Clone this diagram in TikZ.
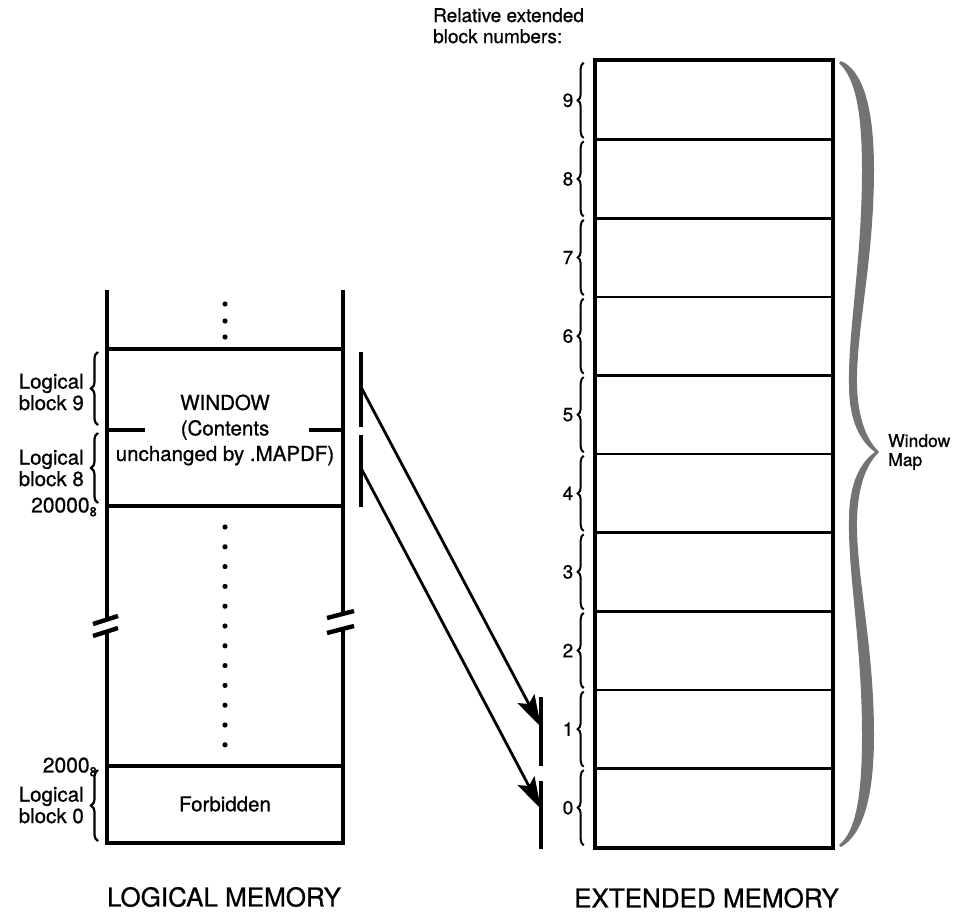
\documentclass[tikz,border=0pt]{standalone}
\usepackage{fontspec}
\setmainfont{TeX Gyre Heros}[FakeBold=0.8]
\usetikzlibrary{arrows.meta,decorations.pathreplacing,calc}
\begin{document}
\begin{tikzpicture}[x=1pt,y=-1pt,
  wall/.style={line width=3.8pt},
  hline/.style={line width=3.4pt},
  rowbox/.style={draw,line width=2.6pt,minimum width=236pt,minimum height=78.6pt,inner sep=0pt},
  lbl/.style={font=\fontsize{20.5}{21.5}\selectfont,align=left,inner sep=0pt},
  numlbl/.style={font=\fontsize{19}{19}\selectfont,inner sep=0pt},
  title/.style={font=\fontsize{26}{26}\selectfont,inner sep=0pt},
  lbrace/.style={decorate,decoration={brace,amplitude=7pt},line width=2.2pt},
  nbrace/.style={decorate,decoration={brace,amplitude=6pt},line width=2pt},
  brk/.style={line width=4.4pt},
  bar/.style={line width=3.2pt},
  maparrow/.style={line width=2.8pt,-{Stealth[length=32pt,width=19pt,inset=6pt]}},
  dotm/.style={fill=black}
]
\useasboundingbox (0,0) rectangle (962,918);

% ---------- Logical memory ----------
\coordinate (LT) at (107,290);
\coordinate (RT) at (343,290);
\draw[wall] (LT) -- (107,619.5);
\draw[wall] (107,631.5) -- (107,843);
\draw[wall] (RT) -- (343,614);
\draw[wall] (343,629) -- (343,843);
\draw[brk] (93,624) -- (118,616);
\draw[brk] (93,636) -- (118,628);
\draw[brk] (327,618) -- (354,611);
\draw[brk] (327,633) -- (354,626);

\draw[hline] (107,349) -- (343,349);
\draw[hline] (107,430) -- (145,430);
\draw[hline] (309,430) -- (343,430);
\draw[hline] (107,506) -- (343,506);
\draw[hline] (107,766) -- (343,766);
\draw[hline] (105.1,843) -- (344.9,843);

\foreach \y in {304,321,337}{\fill[dotm] (225,\y) circle (2.6pt);}
\foreach \k in {0,...,11}{\fill[dotm] (225,{527+19.8*\k}) circle (2.6pt);}

\node[lbl,align=center,font=\fontsize{20.5}{25.5}\selectfont] (win) at (225,430)
  {WINDOW\\(Contents\\unchanged by .MAPDF)};
\node[lbl] (forb) at (225,804) {Forbidden};

\node[lbl,anchor=east] (lb9) at (84,392) {Logical\\block 9};
\node[lbl,anchor=east] (lb8) at (84,468) {Logical\\block 8};
\node[lbl,anchor=east] (lb0) at (84,805) {Logical\\block 0};
\draw[lbrace] (98,425) -- (98,352);
\draw[lbrace] (98,503) -- (98,433);
\draw[lbrace] (98,841) -- (98,770);

\node[lbl,anchor=east,font=\fontsize{21}{21}\selectfont] (a20000) at (97,507)
  {20000\raisebox{-0.35ex}{\fontsize{13}{13}\selectfont 8}};
\node[lbl,anchor=east,font=\fontsize{21}{21}\selectfont] (a2000) at (97,767)
  {2000\raisebox{-0.35ex}{\fontsize{13}{13}\selectfont 8}};

\node[title] (lmem) at (224,897) {LOGICAL MEMORY};

% window bars
\coordinate (w9t) at (361,352);
\coordinate (w9b) at (361,427);
\coordinate (w8t) at (361,435);
\coordinate (w8b) at (361,507);
\draw[bar] (w9t) -- (w9b);
\draw[bar] (w8t) -- (w8b);

% ---------- Extended memory ----------
\foreach \i in {0,...,9}{
  \node[rowbox] (e\i) at (714,{847-78.6*\i-39.3}) {};
  \node[numlbl] (n\i) at (568,{847-78.6*\i-39.3}) {\i};
  \draw[nbrace] ($(e\i.south west)+(-11,-3)$) -- ($(e\i.north west)+(-11,3)$);
}
\draw[line width=3.8pt] (e9.north west) rectangle (e0.south east);

\node[numlbl,anchor=north west,align=left,font=\fontsize{19}{21}\selectfont] (rel) at (433,8)
  {Relative extended\\block numbers:};

\coordinate (x1t) at (541,697);
\coordinate (x1b) at (541,766);
\coordinate (x0t) at (541,781);
\coordinate (x0b) at (541,849);
\draw[bar] (x1t) -- (x1b);
\draw[bar] (x0t) -- (x0b);

% arrows
\coordinate (s9) at (361,387);
\coordinate (s8) at (361,468);
\coordinate (d1) at (541,727);
\coordinate (d0) at (541,809);
\draw[maparrow] (s9) -- (d1);
\draw[maparrow] (s8) -- (d0);

% window map brace
\fill[black!55]
  (841,61) .. controls (862,70) and (874,105) .. (874,170)
  .. controls (874,260) and (856,330) .. (857,385)
  .. controls (858,420) and (867,440) .. (879,452)
  .. controls (867,464) and (858,484) .. (857,520)
  .. controls (856,575) and (874,645) .. (874,735)
  .. controls (874,800) and (862,835) .. (841,847)
  -- (839,845)
  .. controls (855,832) and (862,800) .. (862,735)
  .. controls (862,645) and (848,575) .. (849,520)
  .. controls (849,482) and (861,462) .. (875,452)
  .. controls (861,442) and (849,422) .. (849,385)
  .. controls (848,330) and (862,260) .. (862,170)
  .. controls (862,110) and (855,78) .. (839,63) -- cycle;
\node[numlbl,anchor=west,align=left,font=\fontsize{17.5}{19}\selectfont] (wmap) at (888,452) {Window\\Map};

\node[title,anchor=east] (emem) at (839,898) {EXTENDED MEMORY};
\end{tikzpicture}
\end{document}
